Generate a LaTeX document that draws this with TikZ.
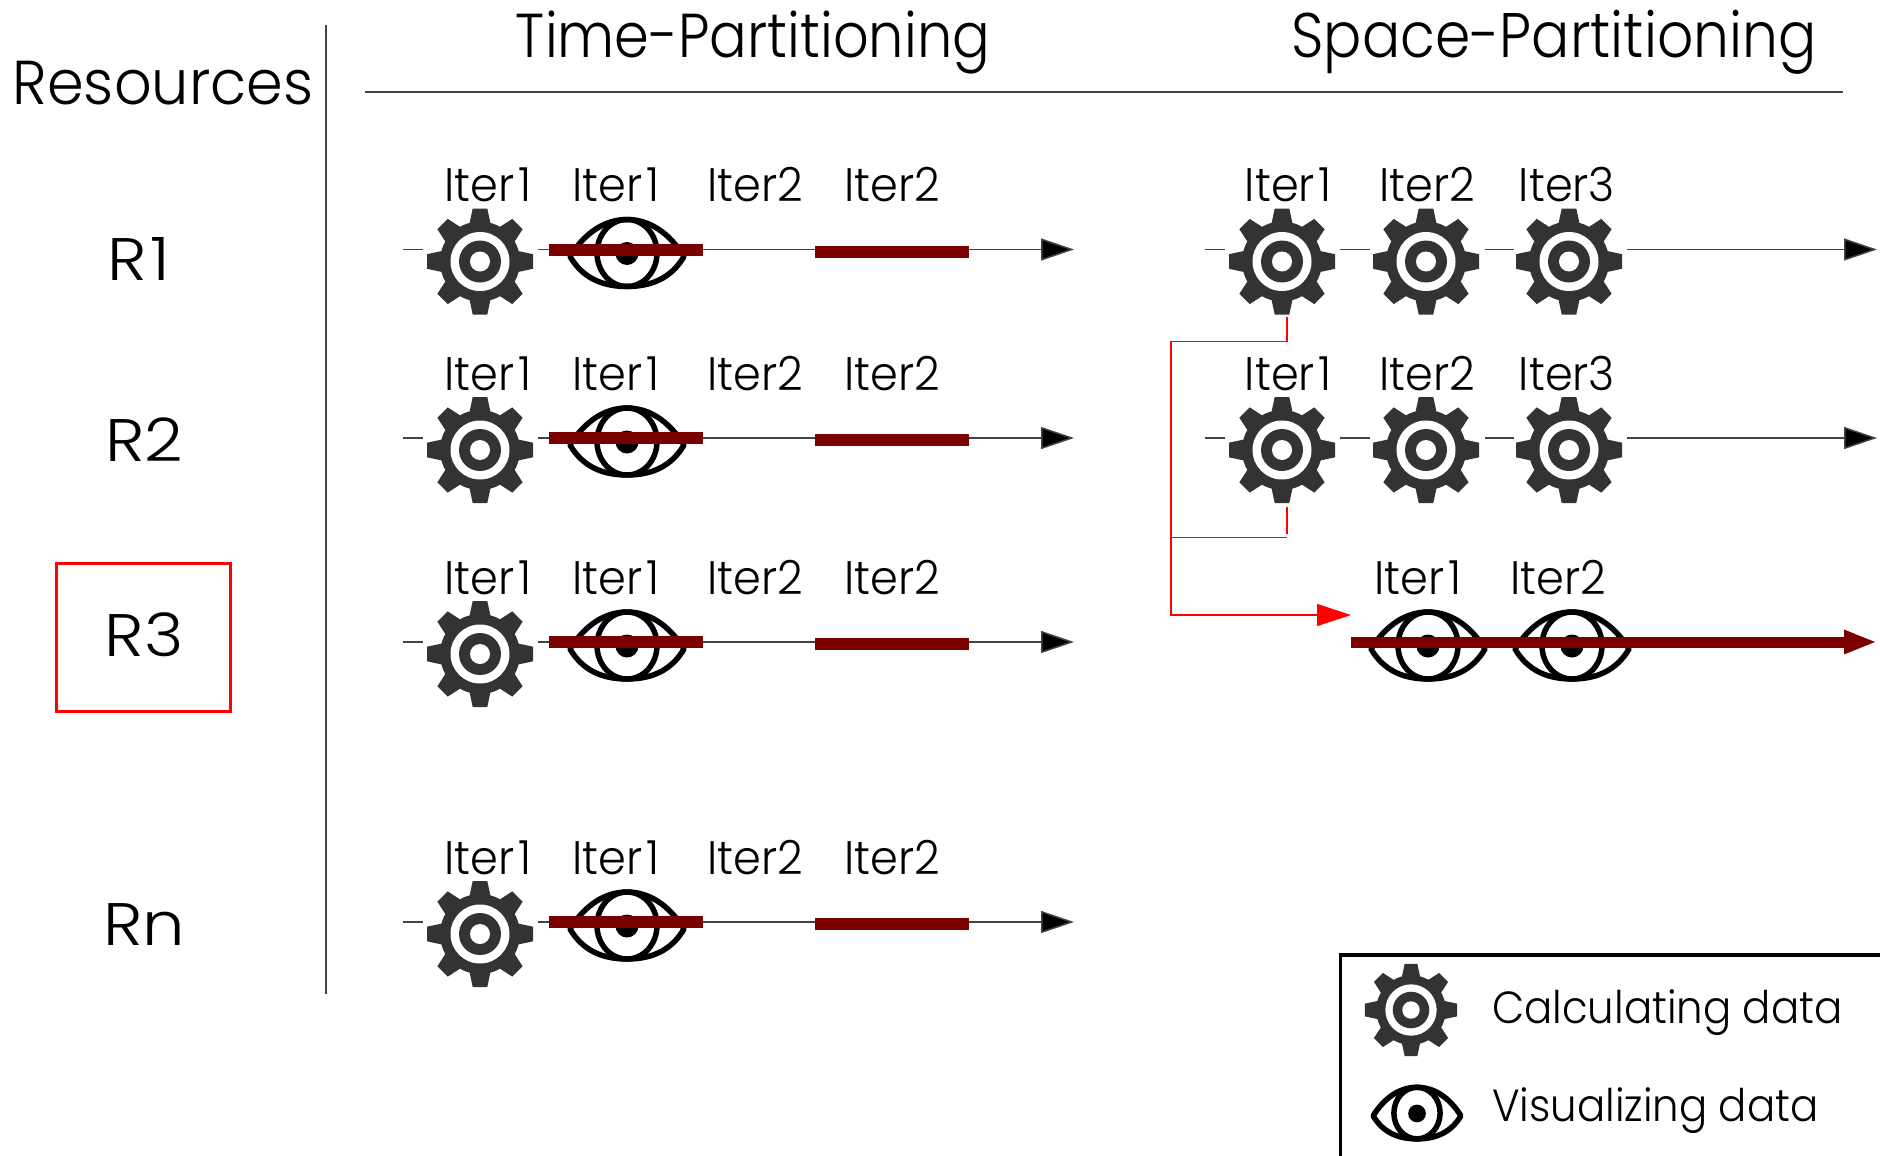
\documentclass[tikz,border=0pt]{standalone}
\usepackage{fontspec}
\setmainfont{Poppins}[UprightFont=* Light,FakeStretch=0.9]
\newfontfamily\iterfont{Poppins}[UprightFont=* Light,FakeStretch=0.95]
\newfontfamily\resfont{Poppins}[UprightFont=* Light,FakeStretch=0.95]
\newfontfamily\rowfont{Poppins}[UprightFont=* Light,FakeStretch=1.12]
\newfontfamily\legfont{Poppins}[UprightFont=* Light,FakeStretch=0.93]
\usetikzlibrary{arrows.meta}
\definecolor{gearcol}{HTML}{333333}
\definecolor{barcol}{HTML}{7B0000}
\definecolor{axiscol}{HTML}{444444}
\tikzset{
  x=1pt,y=-1pt,
  gearpic/.pic={
    \fill[gearcol] (0,0) circle[radius=40];
    \foreach \a in {0,45,...,315}{
      \fill[gearcol,rotate=\a] (-10.5,-38) -- (-7.3,-53) -- (7.3,-53) -- (10.5,-38) -- cycle;
    }
    \fill[white] (0,0) circle[radius=29.5];
    \fill[gearcol] (0,0) circle[radius=21];
    \fill[white] (0,0) circle[radius=10];
  },
  eyepic/.pic={
    \draw[black,line width=5.5pt,line join=round]
      (-57,4) .. controls (-42,-20) and (-22,-33) .. (0,-33)
      .. controls (22,-33) and (42,-20) .. (57,4)
      .. controls (44,26) and (24,34) .. (0,34)
      .. controls (-24,34) and (-44,26) .. (-57,4) -- cycle;
    \draw[black,line width=5.5pt] (0,0.5) ellipse[x radius=30,y radius=33.5];
    \fill[black] (0,1) circle[radius=11.5];
  },
  iterlbl/.style={anchor=base,inner sep=0pt,font=\iterfont\fontsize{47}{54}\selectfont},
  titlelbl/.style={anchor=base,inner sep=0pt,font=\fontsize{62}{72}\selectfont},
  widetitlelbl/.style={anchor=base,inner sep=0pt,font=\fontsize{63}{72}\selectfont},
  resourcelbl/.style={anchor=base,inner sep=0pt,font=\resfont\fontsize{62}{72}\selectfont},
  reslbl/.style={anchor=base,inner sep=0pt,font=\rowfont\fontsize{60}{70}\selectfont},
  legendlbl/.style={anchor=base west,inner sep=0pt,font=\legfont\fontsize{45}{52}\selectfont},
  axisline/.style={draw=axiscol,line width=1.5pt},
  arrowline/.style={axisline,-{Triangle[length=33pt,width=22pt,fill=black]}},
  thickbar/.style={draw=barcol,line width=12pt},
  redline/.style={draw=red,line width=1.2pt},
}
\newcommand{\IterOne}{Iter\kern4pt 1}
\newcommand{\TimeRow}[2]{%
  \begin{scope}[shift={(0,#2)}]
    \pic (#1g) at (480,12) {gearpic};
    \pic (#1e) at (627,3) {eyepic};
    \coordinate (#1a) at (403,0);
    \coordinate (#1b) at (423,0);
    \coordinate (#1c) at (538,0);
    \coordinate (#1d) at (1074,0);
    \coordinate (#1p) at (549,0);
    \coordinate (#1q) at (703,0);
    \coordinate (#1r) at (815,2);
    \coordinate (#1s) at (969,2);
    \draw[axisline] (#1a) -- (#1b);
    \draw[arrowline] (#1c) -- (#1d);
    \draw[thickbar] (#1p) -- (#1q);
    \draw[thickbar] (#1r) -- (#1s);
    \node[iterlbl] (#1l1) at (488,-48) {\IterOne};
    \node[iterlbl] (#1l2) at (616,-48) {\IterOne};
    \node[iterlbl] (#1l3) at (755,-48) {Iter2};
    \node[iterlbl] (#1l4) at (892,-48) {Iter2};
  \end{scope}}
\newcommand{\SpaceRow}[2]{%
  \begin{scope}[shift={(0,#2)}]
    \pic (#1g1) at (1282,12) {gearpic};
    \pic (#1g2) at (1426,12) {gearpic};
    \pic (#1g3) at (1569,12) {gearpic};
    \coordinate (#1a) at (1204.5,0);
    \coordinate (#1b) at (1225,0);
    \coordinate (#1c) at (1340,0);
    \coordinate (#1d) at (1370,0);
    \coordinate (#1e) at (1485,0);
    \coordinate (#1f) at (1514,0);
    \coordinate (#1h) at (1627,0);
    \coordinate (#1i) at (1877,0);
    \draw[axisline] (#1a) -- (#1b);
    \draw[axisline] (#1c) -- (#1d);
    \draw[axisline] (#1e) -- (#1f);
    \draw[arrowline] (#1h) -- (#1i);
    \node[iterlbl] (#1l1) at (1288.5,-48) {\IterOne};
    \node[iterlbl] (#1l2) at (1427,-48) {Iter2};
    \node[iterlbl] (#1l3) at (1567,-48) {Iter3};
  \end{scope}}
\begin{document}
\begin{tikzpicture}
\useasboundingbox (0,0) rectangle (1880,1156);
\fill[white] (0,0) rectangle (1880,1156);
% frame lines
\coordinate (vt) at (326,25); \coordinate (vb) at (326,994);
\coordinate (hl) at (364.5,92); \coordinate (hr) at (1843,92);
\draw[axiscol,line width=1.3pt] (vt) -- (vb);
\draw[axiscol,line width=1.3pt] (hl) -- (hr);
% headings
\node[titlelbl] (tp) at (753,58) {Time-Partitioning};
\node[widetitlelbl] (sp) at (1554,58) {Space-Partitioning};
\node[resourcelbl] (res) at (163,104) {Resources};
\node[reslbl] (r1) at (139,280) {R\kern4pt 1};
\node[reslbl] (r2) at (144,461) {R2};
\node[reslbl] (r3) at (144,656) {R3};
\node[reslbl] (rn) at (144,945) {Rn};
\coordinate (boxa) at (56,563); \coordinate (boxb) at (230,711);
\draw[red,line width=3pt] (boxa) rectangle (boxb);
% time rows
\TimeRow{ta}{249.5}
\TimeRow{tb}{438}
\TimeRow{tc}{642}
\TimeRow{tn}{922}
% space rows
\SpaceRow{sa}{249.5}
\SpaceRow{sb}{438}
% space row 3
\pic (se1) at (1428,645) {eyepic};
\pic (se2) at (1572,645) {eyepic};
\coordinate (sbara) at (1351,642); \coordinate (sbarb) at (1877,642);
\draw[draw=barcol,line width=11pt,-{Triangle[length=33pt,width=22pt,fill=barcol]}] (sbara) -- (sbarb);
\node[iterlbl] (sl1) at (1418,594) {\IterOne};
\node[iterlbl] (sl2) at (1558,594) {Iter2};
% red connectors
\coordinate (ra) at (1287,317); \coordinate (rb) at (1287,341.7);
\coordinate (rc) at (1171,341.7); \coordinate (rd) at (1171,615);
\coordinate (re) at (1351,615);
\coordinate (rf) at (1287,507); \coordinate (rg) at (1287,534);
\coordinate (rh) at (1287,537.7); \coordinate (ri) at (1171,537.7);
\draw[redline,-{Triangle[length=34pt,width=22pt,fill=red]}] (ra) -- (rb) -- (rc) -- (rd) -- (re);
\draw[redline] (rf) -- (rg);
\draw[redline] (rh) -- (ri);
% legend
\coordinate (la) at (1880,955); \coordinate (lb) at (1340.7,955); \coordinate (lc) at (1340.7,1156);
\draw[black,line width=3.5pt] (la) -- (lb) -- (lc);
\pic[scale=0.87] (lg) at (1411,1010) {gearpic};
\pic[scale=0.77] (le) at (1417,1112.7) {eyepic};
\node[legendlbl] (lt1) at (1492,1023) {Calculating data};
\node[legendlbl] (lt2) at (1492,1121.7) {Visualizing data};
\end{tikzpicture}
\end{document}
